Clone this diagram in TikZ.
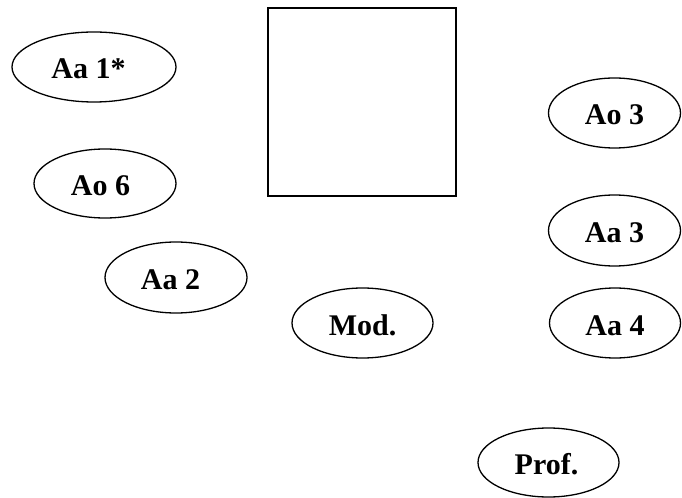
\documentclass[tikz,border=0pt]{standalone}
\usepackage{fontspec}
\setmainfont{Liberation Serif}
\usetikzlibrary{shapes.geometric}
\begin{document}
\begin{tikzpicture}[x=1bp,y=-1bp,
  oval/.style={draw=black,line width=1.3bp,ellipse,inner sep=0pt},
  lbl/.style={anchor=base,inner sep=0pt,font=\fontsize{30bp}{34bp}\selectfont\bfseries},
  box/.style={draw=black,line width=1.5bp}]
\useasboundingbox (0,0) rectangle (682,498);
\draw[box] (268,8) rectangle (456,196);
\node[oval,minimum width=164bp,minimum height=70bp] (a1) at (94,67) {};
\node[oval,minimum width=142bp,minimum height=69bp] (ao6) at (105,183.5) {};
\node[oval,minimum width=142bp,minimum height=71bp] (aa2) at (176,277.5) {};
\node[oval,minimum width=141bp,minimum height=70bp] (mod) at (362.5,323) {};
\node[oval,minimum width=132bp,minimum height=70bp] (ao3) at (614.5,113) {};
\node[oval,minimum width=132bp,minimum height=71bp] (aa3) at (614.5,230.5) {};
\node[oval,minimum width=131bp,minimum height=70bp] (aa4) at (615,323) {};
\node[oval,minimum width=141bp,minimum height=69bp] (prof) at (548.5,462.5) {};
\node[lbl] (a1t) at ([xshift=-5.5bp,yshift=-12bp]a1.center) {Aa 1*};
\node[lbl] (ao6t) at ([xshift=-4.5bp,yshift=-12bp]ao6.center) {Ao 6};
\node[lbl] (aa2t) at ([xshift=-5.5bp,yshift=-12bp]aa2.center) {Aa 2};
\node[lbl] (modt) at ([yshift=-12bp]mod.center) {Mod.};
\node[lbl] (ao3t) at ([yshift=-12bp]ao3.center) {Ao 3};
\node[lbl] (aa3t) at ([yshift=-12bp]aa3.center) {Aa 3};
\node[lbl] (aa4t) at ([yshift=-12bp]aa4.center) {Aa 4};
\node[lbl] (proft) at ([xshift=-2bp,yshift=-12bp]prof.center) {Prof.};
\end{tikzpicture}
\end{document}
